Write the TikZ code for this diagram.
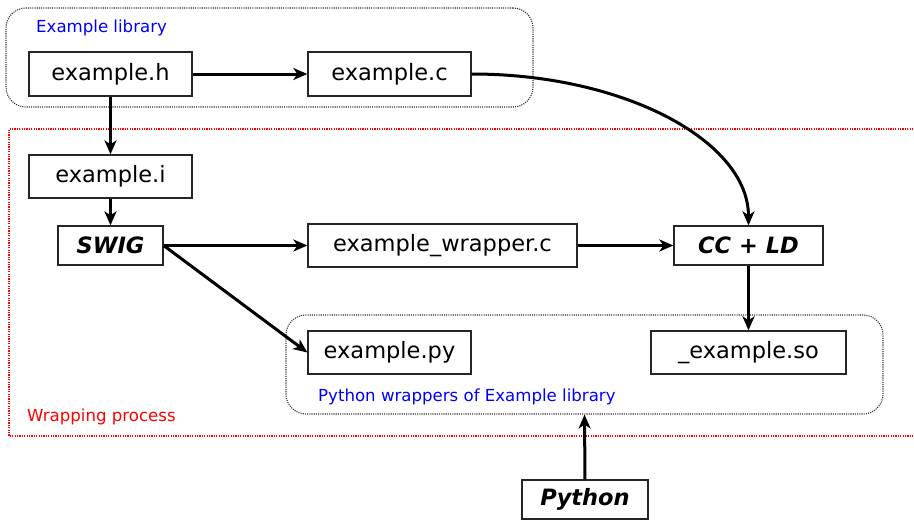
\documentclass[tikz,border=0pt]{standalone}
\usepackage{fontspec}
\setmainfont{DejaVu Sans}
\usetikzlibrary{arrows.meta}
\definecolor{wrapred}{RGB}{255,0,0}
\definecolor{lblblue}{RGB}{0,0,255}
\begin{document}
\begin{tikzpicture}[x=1pt,y=-1pt,
  box/.style={draw=black!85, line width=1.3pt, inner sep=0pt, font=\fontsize{22.5}{26}\selectfont},
  bbox/.style={box, font=\fontsize{22.5}{26}\selectfont\bfseries\itshape},
  group/.style={draw=black!80, line width=1.1pt, dash pattern=on 1.1pt off 1.1pt, rounded corners=20pt, inner sep=0pt},
  arr/.style={line width=3pt, -{Stealth[length=14pt,width=12pt,inset=4pt]}},
  lbl/.style={anchor=base west, inner sep=0pt, font=\fontsize{16.6}{20}\selectfont}
]
\useasboundingbox (0,0) rectangle (914,520);
% groups
\node[group, minimum width=527pt, minimum height=99pt] (libgrp) at (269.5,57.5) {};
\node[group, minimum width=597pt, minimum height=99pt] (pygrp) at (584.5,364.5) {};
\draw[draw=wrapred, line width=1.3pt, dash pattern=on 1.3pt off 1.1pt] (918,129) -| (9,436) -- (918,436);
% labels
\node[lbl, text=lblblue] (liblbl) at (36,32.5) {Example library};
\node[lbl, text=lblblue] (pylbl) at (318,401.5) {Python wrappers of Example library};
\node[lbl, text=wrapred] (wraplbl) at (27,421.5) {Wrapping process};
% boxes
\node[box, minimum width=163pt, minimum height=44pt] (exh) at (110.5,74) {example.h};
\node[box, minimum width=163pt, minimum height=44pt] (exc) at (389.5,74) {example.c};
\node[box, minimum width=163pt, minimum height=43pt] (exi) at (110.5,176.5) {example.i};
\node[bbox, minimum width=105pt, minimum height=39pt] (swig) at (110.5,245.5) {SWIG};
\node[box, minimum width=269pt, minimum height=43pt] (wrap) at (442.5,245.5) {example\_wrapper.c};
\node[bbox, minimum width=149pt, minimum height=39pt] (cc) at (748.5,245.5) {CC + LD};
\node[box, minimum width=163pt, minimum height=43pt] (expy) at (389.5,352.5) {example.py};
\node[box, minimum width=195pt, minimum height=43pt] (exso) at (748.5,352.5) {\_example.so};
\node[bbox, minimum width=126pt, minimum height=39pt] (py) at (585,499.5) {Python};
% connectors
\draw[arr] (exh.east) -- (exc.west);
\draw[arr] (exh.south) -- (exi.north);
\draw[arr] (exi.south) -- (swig.north);
\draw[arr] (swig.east) -- (wrap.west);
\draw[arr] (swig.east) -- (expy.west);
\draw[arr] (wrap.east) -- (cc.west);
\draw[arr] (exc.east) .. controls +(153,0) and +(0,-84) .. (cc.north);
\draw[arr] (cc.south) -- (exso.north);
\draw[arr] (py.north) -- (pygrp.south);
\end{tikzpicture}
\end{document}
